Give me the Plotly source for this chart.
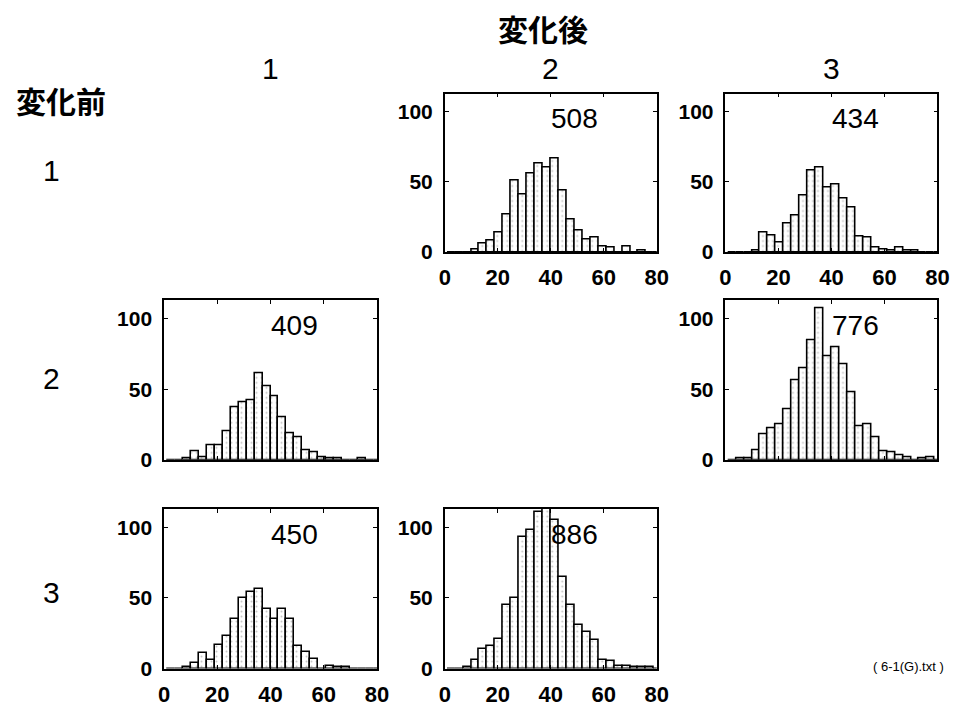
import plotly.graph_objects as go

# Histogram bins: width 3, left edges 1, 4, 7, ..., 79
bin_left = list(range(1, 80, 3))
bin_mid = [b + 1.5 for b in bin_left]

# Counts per bin for each transition (before -> after)
counts_1_2 = [0, 0, 0, 2, 6, 8, 14, 27, 51, 41, 56, 63, 60, 67, 44, 23, 15, 9, 10, 4, 3, 0, 4, 0, 1, 0, 0]
counts_1_3 = [0, 0, 0, 1, 14, 12, 7, 20, 26, 40, 58, 60, 46, 48, 38, 32, 11, 10, 3, 2, 1, 3, 1, 1, 0, 0, 0]
counts_2_1 = [0, 0, 1, 6, 2, 10, 10, 20, 37, 41, 42, 61, 52, 45, 30, 19, 16, 7, 5, 2, 1, 1, 0, 0, 1, 0, 0]
counts_2_3 = [0, 1, 1, 7, 18, 22, 25, 36, 56, 65, 85, 107, 73, 80, 68, 48, 24, 25, 16, 6, 5, 3, 2, 0, 1, 2, 0]
counts_3_1 = [0, 0, 1, 4, 11, 6, 17, 23, 35, 50, 54, 56, 42, 35, 42, 35, 16, 12, 7, 0, 2, 1, 1, 0, 0, 0, 0]
counts_3_2 = [0, 0, 1, 6, 14, 16, 21, 45, 50, 93, 98, 111, 121, 105, 65, 45, 31, 26, 20, 6, 5, 2, 2, 1, 1, 1, 0]

state_labels = ["1", "2", "3"]
x_ticks = [0, 20, 40, 60, 80]
y_ticks = [0, 50, 100]

# (row, col, counts, show x tick labels)
panels = [
    (0, 1, counts_1_2, True),
    (0, 2, counts_1_3, True),
    (1, 0, counts_2_1, False),
    (1, 2, counts_2_3, False),
    (2, 0, counts_3_1, True),
    (2, 1, counts_3_2, True),
]

W, H = 976, 715
col_px = [(161, 378), (447, 663), (733, 949)]
row_px = [(95, 256), (305, 467), (517, 679)]

fig = go.Figure()
layout = {}
annotations = []

for i, (r, c, counts, show_x) in enumerate(panels, start=1):
    xa = "x" if i == 1 else f"x{i}"
    ya = "y" if i == 1 else f"y{i}"
    fig.add_trace(go.Bar(
        x=bin_mid, y=counts, width=3,
        xaxis=xa, yaxis=ya,
        marker=dict(
            color="white",
            line=dict(color="black", width=1.6),
            pattern=dict(shape=".", fgcolor="#8a8a8a", bgcolor="white",
                         size=5, solidity=0.12),
        ),
        showlegend=False, hoverinfo="x+y",
    ))
    x0, x1 = col_px[c]
    y0, y1 = row_px[r]
    common = dict(
        showline=True, linecolor="black", linewidth=1.5, mirror="ticks",
        ticks="inside", ticklen=4, tickwidth=1, tickcolor="black",
        showgrid=False, zeroline=False,
    )
    layout["xaxis" if i == 1 else f"xaxis{i}"] = dict(
        common, domain=[x0 / W, x1 / W], range=[0, 80],
        tickvals=x_ticks, showticklabels=show_x, ticklabelstandoff=5,
        anchor=ya,
        tickfont=dict(family="Liberation Sans", size=22, color="black", weight="bold"),
    )
    layout["yaxis" if i == 1 else f"yaxis{i}"] = dict(
        common, domain=[1 - y1 / H, 1 - y0 / H], range=[0, 113],
        tickvals=y_ticks, ticklabelstandoff=6, anchor=xa,
        tickfont=dict(family="Liberation Sans", size=21, color="black", weight="bold"),
    )
    # total count of the panel
    annotations.append(dict(
        xref=xa, yref=ya, x=49, y=95, text=str(sum(counts)),
        showarrow=False, xanchor="center", yanchor="middle",
        font=dict(family="Liberation Sans", size=28, color="black"),
    ))

cjk = "Noto Sans CJK JP"
annotations.append(dict(
    xref="paper", yref="paper", x=547 / W, y=1 - 28 / H, text="<b>変化後</b>",
    showarrow=False, xanchor="center", yanchor="middle",
    font=dict(family=cjk, size=30, color="black"),
))
annotations.append(dict(
    xref="paper", yref="paper", x=8 / W, y=1 - 102 / H, text="<b>変化前</b>",
    showarrow=False, xanchor="left", yanchor="middle",
    font=dict(family=cjk, size=30, color="black"),
))
for k, lab in enumerate(state_labels):
    cx = (col_px[k][0] + col_px[k][1]) / 2
    annotations.append(dict(
        xref="paper", yref="paper", x=cx / W, y=1 - 70 / H, text=lab,
        showarrow=False, xanchor="center", yanchor="middle",
        font=dict(family="Liberation Sans", size=30, color="black"),
    ))
for k, lab in enumerate(state_labels):
    cy = [173, 384, 602][k]
    annotations.append(dict(
        xref="paper", yref="paper", x=46 / W, y=1 - cy / H, text=lab,
        showarrow=False, xanchor="center", yanchor="middle",
        font=dict(family="Liberation Sans", size=30, color="black"),
    ))
annotations.append(dict(
    xref="paper", yref="paper", x=919 / W, y=1 - 677 / H, text="( 6-1(G).txt )",
    showarrow=False, xanchor="center", yanchor="middle",
    font=dict(family="Liberation Sans", size=13, color="black"),
))

fig.update_layout(
    width=W, height=H,
    margin=dict(l=0, r=0, t=0, b=0),
    paper_bgcolor="white", plot_bgcolor="white",
    bargap=0,
    annotations=annotations,
    **layout,
)

fig.write_html("out.html")
